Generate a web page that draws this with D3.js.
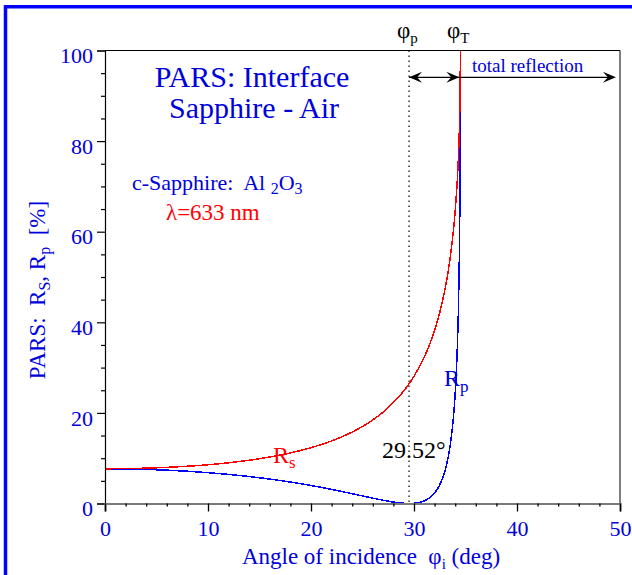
<!DOCTYPE html>
<html><head><meta charset="utf-8">
<script src="https://cdn.jsdelivr.net/npm/d3@7/dist/d3.min.js"></script>
<style>
body{margin:0;background:#fff}
svg{display:block}
svg text{font-family:"Liberation Serif","Times New Roman",Times,"DejaVu Serif",serif !important;white-space:pre}
</style>
</head><body>
<svg id="c" width="632" height="575"></svg>
<script>
// ---- data ----
const anglesDeg = [0,2,4,6,8,10,12,14,16,18,20,22,24,25,26,27,28,29,29.52,30,31,31.5,32,32.5,33,33.5,34,34.2,34.3,34.4,34.45,34.48,34.49,34.5];
const rsPercent = [7.66,7.70,7.80,7.97,8.22,8.55,8.99,9.55,10.26,11.16,12.32,13.81,15.77,17.00,18.45,20.17,22.32,24.83,26.41,28.08,32.34,35.02,38.23,42.15,47.21,54.06,64.62,71.26,75.81,82.19,87.02,91.52,93.87,100];
const rpPercent = [7.66,7.63,7.53,7.36,7.12,6.81,6.42,5.95,5.39,4.73,3.97,3.11,2.16,1.67,1.18,0.72,0.31,0.05,0,0.05,0.59,1.24,2.33,4.12,7.15,12.63,24.38,33.99,41.66,54.02,64.73,75.85,82.09,94];
const xTickValues = [0,10,20,30,40,50];
const xMinorValues = [2,4,6,8,12,14,16,18,22,24,26,28,32,34,36,38,42,44,46,48];
const yTickValues = [0,20,40,60,80,100];
const yMinorValues = [5,10,15,25,30,35,45,50,55,65,70,75,85,90,95];
const brewsterAngle = 29.52;
const criticalAngle = 34.5;
const arrowEndAngle = 49.6;

const FONT = '"Liberation Serif","Times New Roman",Times,"DejaVu Serif",serif';
const svg = d3.select("#c");
const BLUE = "#0000dd", RED = "#ff0000";

const x = d3.scaleLinear().domain([0,50]).range([105,620]);
const y = d3.scaleLinear().domain([0,100]).range([503.5,50.5]);

// outer blue frame (left + top)
svg.append("path").attr("d","M5.5,575 L5.5,6.8 L632,6.8")
  .attr("fill","none").attr("stroke","#0000ff").attr("stroke-width",3.5);

// Brewster dotted line
svg.append("line").attr("x1",x(brewsterAngle)).attr("x2",x(brewsterAngle))
  .attr("y1",y(100)).attr("y2",y(0))
  .attr("stroke","#000").attr("stroke-width",1.2).attr("stroke-dasharray","1.5,3.5");

// curves
const rs = anglesDeg.map((a,i)=>[a,rsPercent[i]]);
const rp = anglesDeg.map((a,i)=>[a,rpPercent[i]]);
const line = d3.line().x(d=>x(d[0])).y(d=>y(d[1])).curve(d3.curveMonotoneX);
svg.append("path").datum(rp).attr("d",line).attr("fill","none")
  .attr("stroke","#0000ff").attr("stroke-width",1.5).attr("shape-rendering","crispEdges");
svg.append("path").datum(rs).attr("d",line).attr("fill","none")
  .attr("stroke",RED).attr("stroke-width",1.5).attr("shape-rendering","crispEdges");

// frame top + right
svg.append("path").attr("d",`M${x(0)},${y(100)} L${x(50)},${y(100)} L${x(50)},${y(0)}`)
  .attr("fill","none").attr("stroke","#000").attr("stroke-width",1);

// y axis
const yAxis = svg.append("g").attr("transform",`translate(${x(0)},0)`)
  .call(d3.axisLeft(y).tickValues(yTickValues).tickSize(8).tickPadding(4).tickFormat(d3.format("d")));
yAxis.attr("font-family",FONT);
yAxis.select(".domain").attr("stroke","#000").attr("stroke-width",1.2);
yAxis.selectAll(".tick line").attr("stroke","#000").attr("stroke-width",1.2);
yAxis.selectAll(".tick text").attr("fill",BLUE).attr("font-size",22)
  .attr("font-family",FONT).attr("dy","0.55em");
svg.append("g").attr("transform",`translate(${x(0)},0)`)
  .call(d3.axisLeft(y).tickValues(yMinorValues).tickSize(4).tickFormat(""))
  .call(g=>g.select(".domain").remove())
  .selectAll(".tick line").attr("stroke","#000").attr("stroke-width",1.2);

// x axis
const xAxis = svg.append("g").attr("transform",`translate(0,${y(0)})`)
  .call(d3.axisBottom(x).tickValues(xTickValues).tickSize(8).tickPadding(9).tickFormat(d3.format("d")));
xAxis.attr("font-family",FONT);
xAxis.select(".domain").attr("stroke","#7a7a7a").attr("stroke-width",2.2);
xAxis.selectAll(".tick line").attr("stroke","#000").attr("stroke-width",1.3);
xAxis.selectAll(".tick text").attr("fill",BLUE).attr("font-size",22)
  .attr("font-family",FONT);
svg.append("g").attr("transform",`translate(0,${y(0)})`)
  .call(d3.axisBottom(x).tickValues(xMinorValues).tickSize(3).tickFormat(""))
  .call(g=>g.select(".domain").remove())
  .selectAll(".tick line").attr("stroke","#000").attr("stroke-width",1.3);

// helper for text with subscripts: parts = [[text, isSub], ...]
function rich(t, parts, subSize, subShift){
  let shifted = false;
  parts.forEach(([s,sub])=>{
    const ts = t.append("tspan").text(s);
    if(sub){ ts.attr("font-size",subSize); if(!shifted){ ts.attr("dy",subShift); shifted=true; } }
    else if(shifted){ ts.attr("dy",-subShift); shifted=false; }
  });
}
function txt(xp, yp, color, size){
  return svg.append("text").attr("x",xp).attr("y",yp).attr("fill",color)
    .attr("font-size",size).attr("font-family",FONT);
}

// titles
txt(252,87,BLUE,30).attr("text-anchor","middle").text("PARS: Interface");
txt(254,118,BLUE,30).attr("text-anchor","middle").text("Sapphire - Air");

rich(txt(132,190,BLUE,22), [["c-Sapphire:  Al ",false],["2",true],["O",false],["3",true]], 16, 4);
txt(166,220,RED,23).text("λ=633 nm");

// curve labels
rich(txt(273,463,RED,24), [["R",false],["s",true]], 17, 5);
rich(txt(444,386,BLUE,24), [["R",false],["p",true]], 17, 6);

txt(382,458,"#000",24).text("29.52°");

// phi labels
rich(txt(397,38,"#000",23), [["φ",false],["p",true]], 15, 5);
rich(txt(447,38,"#000",23), [["φ",false],["T",true]], 15, 5);

// arrows
const ay = 77.3;
function head(xTip, dir){
  const p = `M${xTip},${ay} L${xTip-dir*13},${ay-5.5} L${xTip-dir*8},${ay} L${xTip-dir*13},${ay+5.5} Z`;
  svg.append("path").attr("d",p).attr("fill","#000");
}
svg.append("line").attr("x1",x(brewsterAngle)).attr("x2",x(criticalAngle)).attr("y1",ay).attr("y2",ay)
  .attr("stroke","#000").attr("stroke-width",1.3);
head(x(brewsterAngle),-1); head(x(criticalAngle)-1,1);
svg.append("line").attr("x1",x(criticalAngle)).attr("x2",x(arrowEndAngle)-6).attr("y1",ay).attr("y2",ay)
  .attr("stroke","#000").attr("stroke-width",1.3);
head(x(arrowEndAngle),1);
txt(472,72,BLUE,19).text("total reflection");

// axis titles
rich(txt(371,564,BLUE,23).attr("text-anchor","middle"),
  [["Angle of incidence  φ",false],["i",true],[" (deg)",false]], 15, 5);
rich(svg.append("text").attr("transform","translate(45,290) rotate(-90)").attr("text-anchor","middle")
  .attr("fill",BLUE).attr("font-size",23).attr("font-family",FONT),
  [["PARS:  R",false],["S",true],[", R",false],["p",true],["  [%]",false]], 16, 5);
</script>
</body></html>
